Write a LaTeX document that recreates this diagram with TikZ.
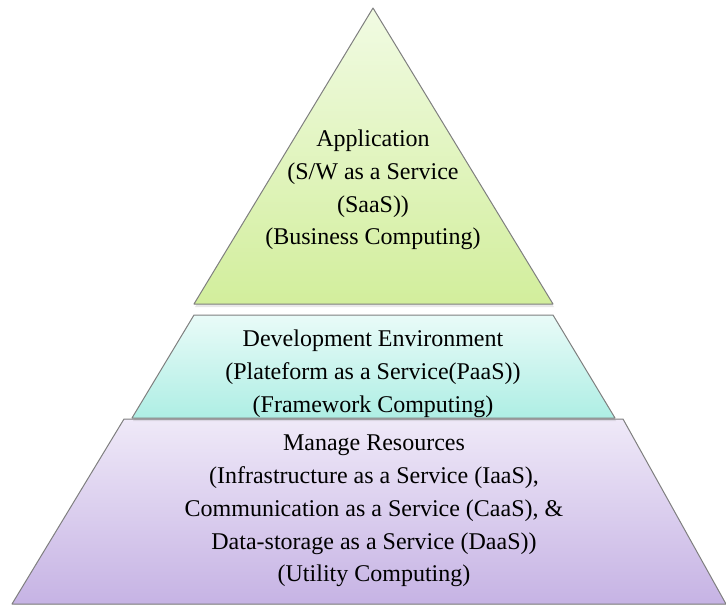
\documentclass[tikz,border=0pt]{standalone}
\usepackage{fontspec}
\setmainfont{Liberation Serif}
\usetikzlibrary{shadows}
\definecolor{apptop}{HTML}{F1FBE3}
\definecolor{appbot}{HTML}{D2EE9C}
\definecolor{devtop}{HTML}{E9FBF8}
\definecolor{devbot}{HTML}{AEEEE4}
\definecolor{restop}{HTML}{EFE9F8}
\definecolor{resbot}{HTML}{C6B3E4}
\definecolor{edge}{HTML}{7F7F7F}
\tikzset{
  layer/.style={draw=edge,line width=1pt,line join=round,
    drop shadow={shadow xshift=1pt,shadow yshift=-3pt,opacity=0.18}},
  label/.style={align=center,font=\fontsize{24}{32.8}\selectfont}
}
\begin{document}
\begin{tikzpicture}[x=1pt,y=-1pt]
        \useasboundingbox (0,0) rectangle (726,605);
        \draw[layer,top color=restop,bottom color=resbot]
          (124,419)--(623,419)--(726,604)--(12,604)--cycle;
        \draw[layer,top color=devtop,bottom color=devbot]
          (194,315)--(553,315)--(615,418)--(132,418)--cycle;
        \draw[layer,top color=apptop,bottom color=appbot]
          (373,8)--(553,304)--(194,304)--cycle;
        \node[label] (app) at (373,190)
          {Application\\(S/W as a Service\\(SaaS))\\(Business Computing)};
        \node[label] (dev) at (373,374)
          {Development Environment\\(Plateform as a Service(PaaS))\\(Framework Computing)};
        \node[label] (res) at (374,511)
          {Manage Resources\\(Infrastructure as a Service (IaaS),\\Communication as a Service (CaaS), \&\\Data-storage as a Service (DaaS))\\(Utility Computing)};
      \end{tikzpicture}
\end{document}
